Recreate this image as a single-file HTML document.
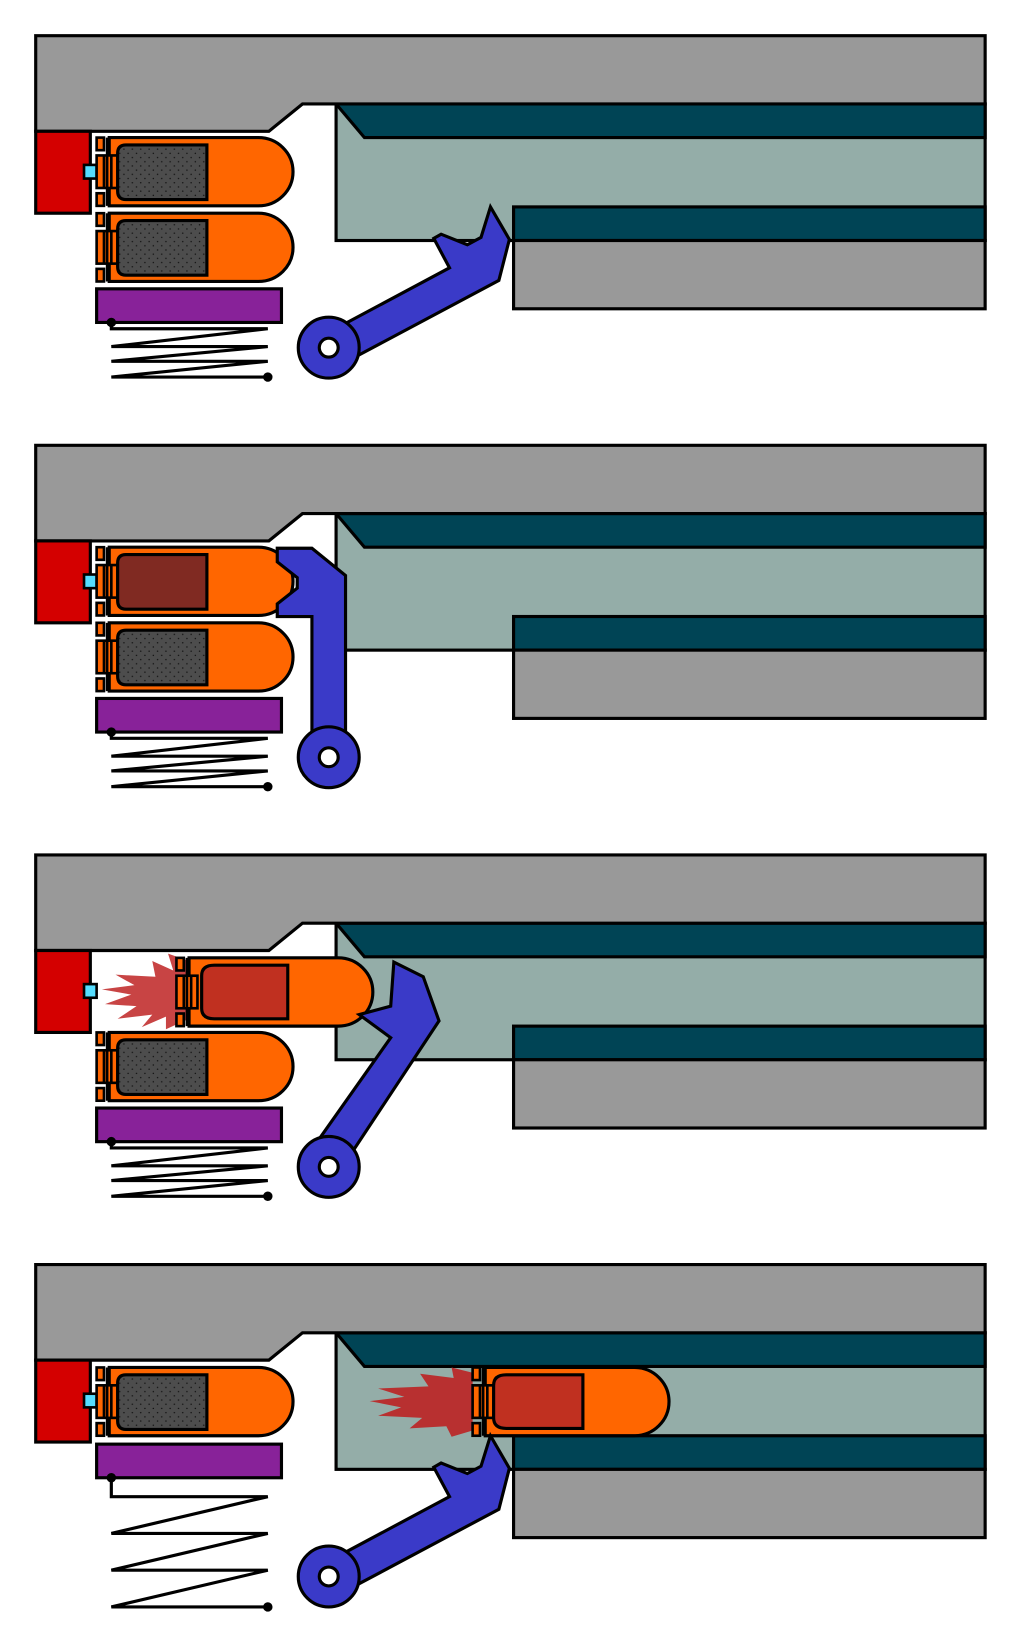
<!DOCTYPE html>
<html><head><meta charset="utf-8"><style>html,body{margin:0;padding:0;background:#fff}svg{display:block}</style></head>
<body>
<svg width="1024" height="1650" viewBox="0 0 975 1571" preserveAspectRatio="none" xmlns="http://www.w3.org/2000/svg">
<defs>
<pattern id="dots" width="8" height="8" patternUnits="userSpaceOnUse"><rect width="8" height="8" fill="#4d4d4d"/><circle cx="2" cy="3" r="0.7" fill="#111"/><circle cx="6" cy="7" r="0.7" fill="#111"/></pattern>
<g id="rim" stroke="#000" stroke-width="2.5">
 <rect x="0" y="0" width="7" height="12" fill="#f60"/>
 <rect x="0" y="53" width="7" height="12" fill="#f60"/>
 <rect x="0" y="17" width="20" height="31" fill="#f60"/>
 <line x1="7" y1="17" x2="7" y2="48"/><line x1="14" y1="17" x2="14" y2="48"/>
 <line x1="10" y1="0" x2="10" y2="65"/>
</g>
<g id="body">
 <path d="M12,0 H154 A33,32.5 0 0 1 154,65 H12 Z" fill="#f60" stroke="#000" stroke-width="3"/>
 <use href="#rim"/>
</g>
<g id="cart"><use href="#body"/><path d="M28,7 H105 V59 H28 Q20,59 20,51 V15 Q20,7 28,7 Z" fill="url(#dots)" stroke="#000" stroke-width="3"/></g>
<g id="frame">
 <rect x="320" y="99" width="618" height="130" fill="#94ada8" stroke="#000" stroke-width="3"/>
 <polygon points="320,99 938,99 938,131 347,131" fill="#004455" stroke="#000" stroke-width="3"/>
 <polygon points="34,34 938,34 938,99 288,99 256,125 34,125" fill="#999" stroke="#000" stroke-width="3"/>
 <rect x="489" y="197" width="449" height="32" fill="#004455" stroke="#000" stroke-width="3"/>
 <rect x="489" y="229" width="449" height="65" fill="#999" stroke="#000" stroke-width="3"/>
 <rect x="34" y="125" width="52" height="78" fill="#d40000" stroke="#000" stroke-width="3"/>
 <rect x="80" y="157" width="12" height="13" fill="#55ddff" stroke="#000" stroke-width="2.5"/>
</g>
<g id="spring1" fill="none" stroke="#000" stroke-width="3">
 <polyline points="106,307 106,313 255,313 106,330 255,330 106,344 255,344 106,359 255,359"/>
 <circle cx="106" cy="307" r="3" fill="#000"/><circle cx="255" cy="359" r="3" fill="#000"/>
</g>
<g id="lever1">
 <polygon points="325,310 428,255 413,227 420,223 445,233 458,226 467,197 485,228 475,267 338,340" fill="#3a3ac8" stroke="#000" stroke-width="3"/>
</g>
<g id="wheel"><circle cx="313" cy="331" r="29" fill="#3a3ac8" stroke="#000" stroke-width="3"/><circle cx="313" cy="331" r="9" fill="#fff" stroke="#000" stroke-width="3"/></g>
</defs>

<!-- Panel 1 -->
<use href="#frame"/>
<use href="#cart" x="92" y="131"/>
<use href="#cart" x="92" y="203"/>
<rect x="92" y="275" width="176" height="32" fill="#882299" stroke="#000" stroke-width="3"/>
<use href="#spring1"/>
<use href="#lever1"/>
<use href="#wheel"/>

<!-- Panel 2 -->
<g transform="translate(0,390)">
<use href="#frame"/>
<use href="#body" x="92" y="131"/>
<path d="M120,138 H197 V190 H120 Q112,190 112,182 V146 Q112,138 120,138 Z" fill="#802a22" stroke="#000" stroke-width="3"/>
<use href="#cart" x="92" y="203"/>
<rect x="92" y="275" width="176" height="32" fill="#882299" stroke="#000" stroke-width="3"/>
<use href="#spring1"/>
<polygon points="264,132 297,132 329,158 329,310 297,310 297,197 264,197 264,185 283,170 283,160 264,145" fill="#3a3ac8" stroke="#000" stroke-width="3"/>
<use href="#wheel"/>
</g>

<!-- Panel 3 -->
<g transform="translate(0,780)">
<use href="#frame"/>
<polygon points="180,135 160,128 165,144 145,135 148,150 110,148 128,158 97,162 125,167 100,176 130,178 112,190 145,186 135,198 158,188 158,200 180,190" fill="#c84444"/>
<use href="#body" x="168" y="132"/>
<path d="M204,139 H274 V190 H204 Q192,190 192,180 V149 Q192,139 204,139 Z" fill="#c03020" stroke="#000" stroke-width="3"/>
<use href="#cart" x="92" y="203"/>
<rect x="92" y="275" width="176" height="32" fill="#882299" stroke="#000" stroke-width="3"/>
<use href="#spring1"/>
<polygon points="300,310 372,208 342,186 372,178 375,136 403,150 418,192 330,325" fill="#3a3ac8" stroke="#000" stroke-width="3"/>
<use href="#wheel"/>
</g>

<!-- Panel 4 -->
<g transform="translate(0,1170)">
<use href="#frame"/>
<polygon points="450,137 430,132 432,142 400,138 408,150 360,152 385,160 352,164 382,170 360,178 402,180 390,190 425,188 430,198 450,192" fill="#b83030"/>
<use href="#body" x="450" y="132"/>
<path d="M482,139 H555 V190 H482 Q470,190 470,180 V149 Q470,139 482,139 Z" fill="#c03020" stroke="#000" stroke-width="3"/>
<use href="#cart" x="92" y="132"/>
<rect x="92" y="205" width="176" height="32" fill="#882299" stroke="#000" stroke-width="3"/>
<g fill="none" stroke="#000" stroke-width="3">
 <polyline points="106,237 106,255 255,255 106,290 255,290 106,325 255,325 106,360 255,360"/>
 <circle cx="106" cy="237" r="3" fill="#000"/><circle cx="255" cy="360" r="3" fill="#000"/>
</g>
<use href="#lever1"/>
<use href="#wheel"/>
</g>
</svg>
</body></html>
